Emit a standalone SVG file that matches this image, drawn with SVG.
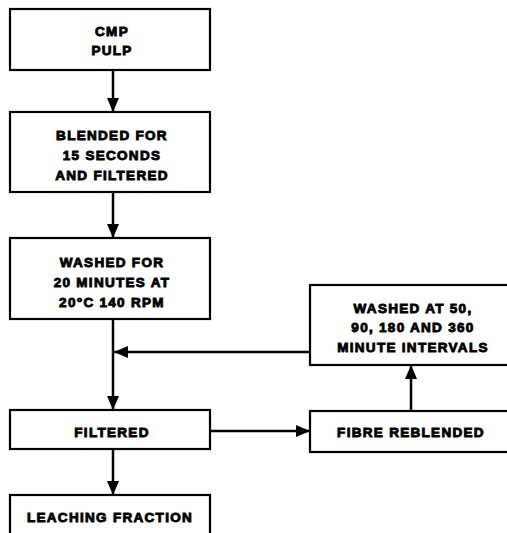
<svg xmlns="http://www.w3.org/2000/svg" width="507" height="533" viewBox="0 0 507 533">
<defs>
<marker id="ah" viewBox="0 0 14 12" refX="14" refY="6" markerWidth="14" markerHeight="13" markerUnits="userSpaceOnUse" orient="auto">
<path d="M0,0 L14,6 L0,12 Z" fill="#000"/>
</marker>
</defs>
<style>
.box{fill:#fff;stroke:#000;stroke-width:2.2}
.t{font-family:"Liberation Sans",Arial,sans-serif;font-weight:bold;font-size:13.5px;letter-spacing:1.3px;fill:#000;stroke:#000;stroke-width:0.9;text-anchor:middle;dominant-baseline:central}
.c{fill:none;stroke:#000;stroke-width:2.5}
</style>
<rect width="507" height="533" fill="#fff"/>
<g id="connectors">
<line class="c" x1="113" y1="70" x2="113" y2="112" marker-end="url(#ah)"/>
<line class="c" x1="113" y1="192" x2="113" y2="238" marker-end="url(#ah)"/>
<line class="c" x1="113" y1="319" x2="113" y2="410" marker-end="url(#ah)"/>
<line class="c" x1="310" y1="352" x2="114" y2="352" marker-end="url(#ah)"/>
<line class="c" x1="113" y1="449" x2="113" y2="495" marker-end="url(#ah)"/>
<line class="c" x1="210" y1="431" x2="310" y2="431" marker-end="url(#ah)"/>
<line class="c" x1="411" y1="411" x2="411" y2="365" marker-end="url(#ah)"/>
</g>
<g id="n1">
<rect class="box" x="10" y="9" width="200" height="61"/>
<text class="t" x="112" y="31">CMP</text>
<text class="t" x="112" y="50">PULP</text>
</g>
<g id="n2">
<rect class="box" x="10" y="112" width="200" height="80"/>
<text class="t" x="112" y="135">BLENDED FOR</text>
<text class="t" x="112" y="155">15 SECONDS</text>
<text class="t" x="112" y="175">AND FILTERED</text>
</g>
<g id="n3">
<rect class="box" x="10" y="238" width="200" height="81"/>
<text class="t" x="112" y="262">WASHED FOR</text>
<text class="t" x="112" y="282">20 MINUTES AT</text>
<text class="t" x="112" y="302">20°C 140 RPM</text>
</g>
<g id="n4">
<rect class="box" x="10" y="410" width="200" height="39"/>
<text class="t" x="112" y="432">FILTERED</text>
</g>
<g id="n5">
<rect class="box" x="10" y="495" width="200" height="45"/>
<text class="t" x="110" y="517">LEACHING FRACTION</text>
</g>
<g id="n6">
<rect class="box" x="310" y="285" width="205" height="80"/>
<text class="t" x="413" y="308">WASHED AT 50,</text>
<text class="t" x="413" y="327">90, 180 AND 360</text>
<text class="t" x="413" y="347">MINUTE INTERVALS</text>
</g>
<g id="n7">
<rect class="box" x="310" y="411" width="205" height="41"/>
<text class="t" x="411" y="432">FIBRE REBLENDED</text>
</g>
</svg>
